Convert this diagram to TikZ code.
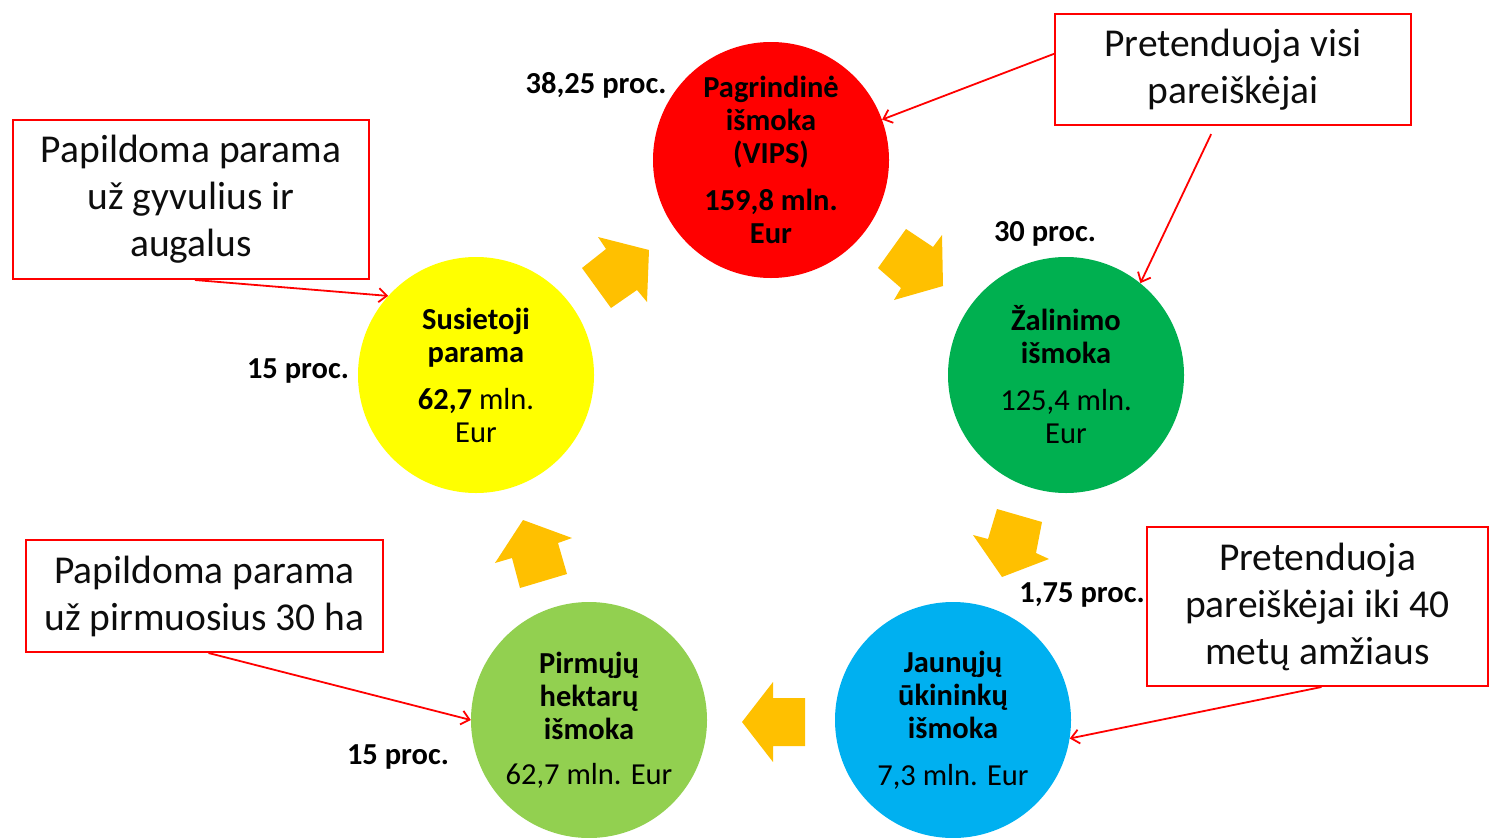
\documentclass[tikz,border=0pt]{standalone}
\usepackage{fontspec}
\setmainfont{Carlito}
\usetikzlibrary{arrows.meta}
\definecolor{pagred}{HTML}{FF0000}
\definecolor{zalgreen}{HTML}{00B050}
\definecolor{susyellow}{HTML}{FFFF00}
\definecolor{pirmgreen}{HTML}{92D050}
\definecolor{jaunblue}{HTML}{00B0F0}
\definecolor{flow}{HTML}{FFC000}
\tikzset{
  >={Straight Barb[length=8pt, width=14pt]},
  % payment circles (sizes in px of the slide)
  payment/.style={circle, minimum size=236pt, inner sep=0pt, align=center, font=\fontsize{30.5}{33}\selectfont},
  boldpayment/.style={payment, font=\fontsize{30.5}{33}\selectfont\bfseries},
  % red framed remarks
  note/.style={draw=red, line width=2pt, align=center, inner sep=0pt, text=black!95, font=\fontsize{39.5}{47}\selectfont},
  share/.style={font=\fontsize{30.5}{33}\selectfont\bfseries},
  callout/.style={->, red, line width=1.8pt},
  flowarrow/.style={fill=flow},
}

\begin{document}
\begin{tikzpicture}[x=1pt, y=-1pt]
  \useasboundingbox (0,0) rectangle (1489,838);
  % ---------------- payments
  \node[boldpayment, fill=pagred] (vips) at (771,160) {Pagrindinė\\ išmoka\\ (VIPS)\\[14pt] 159,8 mln.\\ Eur};
  \node[payment, fill=zalgreen] (zal) at (1066,375) {\textbf{Žalinimo}\\ \textbf{išmoka}\\[14pt] 125,4 mln.\\ Eur};
  \node[payment, fill=susyellow] (sus) at (476,375) {\textbf{Susietoji}\\ \textbf{parama}\\[14pt] \textbf{62,7} mln.\\ Eur};
  \node[payment, fill=pirmgreen] (pirm) at (589,720) {\textbf{Pirmųjų}\\ \textbf{hektarų}\\ \textbf{išmoka}\\[12pt] 62,7 mln. Eur};
  \node[payment, fill=jaunblue] (jaun) at (953,720) {\textbf{Jaunųjų}\\ \textbf{ūkininkų}\\ \textbf{išmoka}\\[14pt] 7,3 mln. Eur};
  % shares of the envelope
  \node[share] (vipsshare) at (596,85) {38,25 proc.};
  \node[share] (zalshare) at (1045,234) {30 proc.};
  \node[share] (susshare) at (298,371) {15 proc.};
  \node[share] (jaunshare) at (1082,595) {1,75 proc.};
  \node[share] (pirmshare) at (398,757) {15 proc.};
  % ---------------- block arrows round the cycle (cut as on the slide)
  \fill[flowarrow] (598,237) -- (649,250) -- (647,302) -- (637,290) -- (611,308) -- (582,268) -- (606,249) -- cycle;
  \fill[flowarrow] (906,229) -- (933,247) -- (942,235) -- (943,286) -- (894,300) -- (901,288) -- (878,268) -- cycle;
  \fill[flowarrow] (997,509) -- (1042,522) -- (1036,553) -- (1049,559) -- (1002,577) -- (973,535) -- (988,539) -- cycle;
  \fill[flowarrow] (742,722) -- (773,682) -- (773,698) -- (805,698) -- (805,746) -- (773,746) -- (773,762) -- cycle;
  \fill[flowarrow] (523,520) -- (572,538) -- (558,543) -- (567,574) -- (520,588) -- (512,558) -- (495,563) -- cycle;
  % ---------------- remarks
  \node[note, minimum width=356pt, minimum height=111pt] (visi) at (1233,69.5) {Pretenduoja visi\\ pareiškėjai};
  \node[note, minimum width=356pt, minimum height=159pt] (gyv) at (191,199.5) {Papildoma parama\\ už gyvulius ir\\ augalus};
  \node[note, minimum width=357pt, minimum height=112pt] (ha) at (204.5,596) {Papildoma parama\\ už pirmuosius 30 ha};
  \node[note, minimum width=341pt, minimum height=159pt] (jauni) at (1317.5,606.5) {Pretenduoja\\ pareiškėjai iki 40\\ metų amžiaus};
  \draw[callout] (visi.175) -- (vips.20);
  \draw[callout, shorten <=9pt] ([xshift=-18pt]visi.south) -- (zal.51);
  \draw[callout] ([xshift=4pt]gyv.south) -- (sus.138);
  \draw[callout] ([xshift=4pt]ha.south) -- (pirm.180);
  \draw[callout] ([xshift=4pt]jauni.south) -- (jaun.-9);
\end{tikzpicture}
\end{document}
